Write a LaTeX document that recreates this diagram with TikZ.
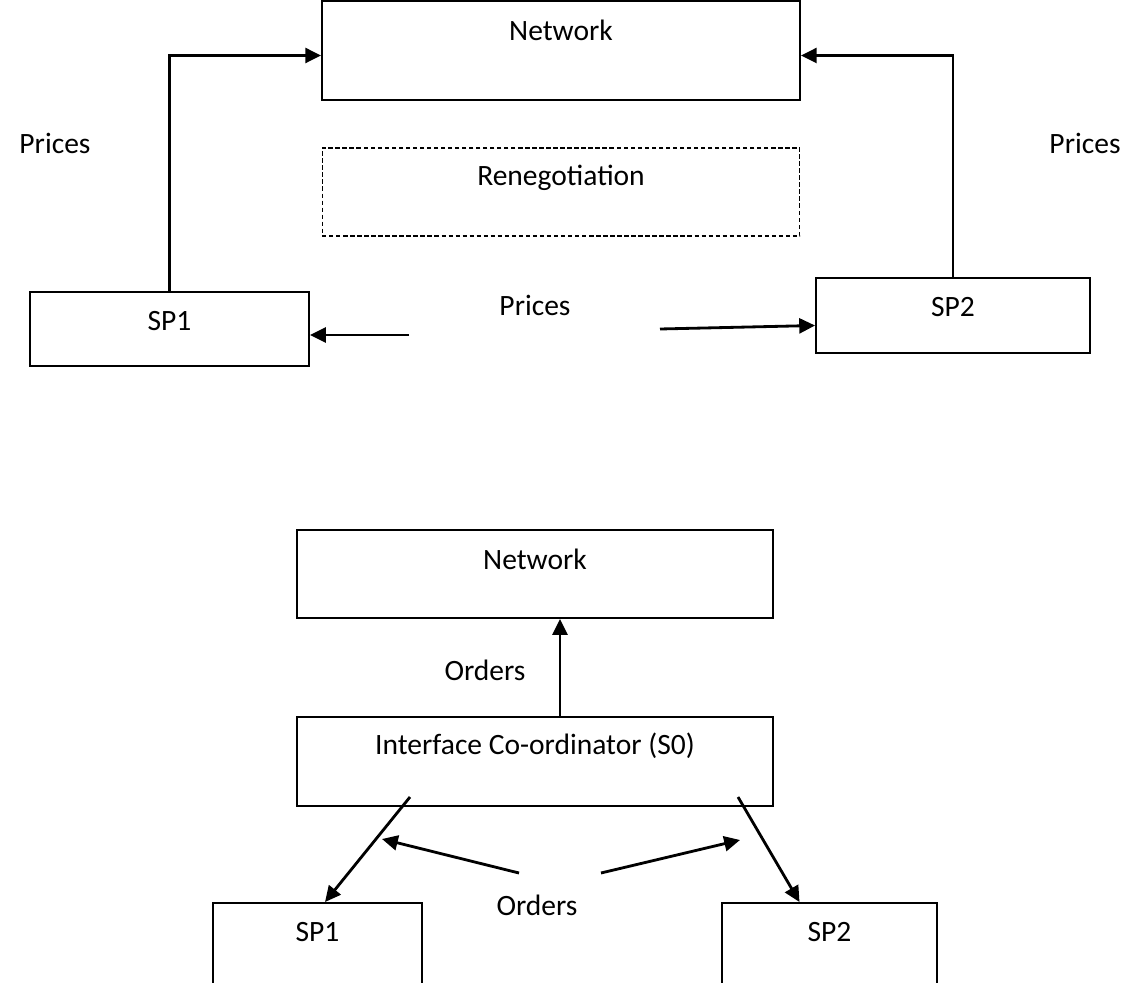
\documentclass[tikz,border=0pt]{standalone}
\usepackage{fontspec}
\setmainfont{Carlito}
\usetikzlibrary{arrows.meta}

\begin{document}
\begin{tikzpicture}[x=0.02cm, y=-0.02cm,
    box/.style={draw, line width=1.1pt, inner sep=0pt},
    lbl/.style={anchor=center, yshift=-0.6cm, inner sep=0pt},
    arr/.style={line width=1.6pt, -{Triangle[length=9pt,width=8.5pt]}},
    font=\fontsize{16.8}{20}\selectfont]
    \clip (0,0) rectangle (1127,983);
    \node[box, minimum width=9.56cm, minimum height=1.98cm, label={[lbl]north:Network}] (net1) at (561,50.5) {};
    \node[box, line width=0.6pt, dash pattern=on 2.5pt off 1.5pt, minimum width=9.56cm, minimum height=1.76cm, label={[lbl]north:Renegotiation}] (reneg) at (561,192) {};
    \node[box, minimum width=5.58cm, minimum height=1.48cm, label={[lbl]north:SP1}] (sp1a) at (169.5,329) {};
    \node[box, minimum width=5.48cm, minimum height=1.5cm, label={[lbl]north:SP2}] (sp2a) at (953,315.5) {};
    \node (pricesl) at (55,143) {Prices};
    \node (pricesr) at (1085,143) {Prices};
    \node (pricesm) at (535,305) {Prices};
    \draw[arr] (sp1a.north) |- ([yshift=-0.1cm]net1.west);
    \draw[arr] (sp2a.north) |- ([yshift=-0.1cm]net1.east);
    \coordinate (pl) at (409,335);
    \coordinate (pr) at (660,329);
    \draw[arr] (pl) -- (sp1a.east |- pl);
    \draw[arr] (pr) -- ([yshift=-0.2cm]sp2a.west);

    \node[box, minimum width=9.52cm, minimum height=1.76cm, label={[lbl]north:Network}] (net2) at (535,574) {};
    \node[box, minimum width=9.52cm, minimum height=1.78cm, label={[lbl]north:Interface Co-ordinator (S0)}] (ic) at (535,761.5) {};
    \node[box, minimum width=4.18cm, minimum height=2.8cm, label={[lbl]north:SP1}] (sp1b) at (317.5,973) {};
    \node[box, minimum width=4.3cm, minimum height=2.8cm, label={[lbl]north:SP2}] (sp2b) at (829.5,973) {};
    \node (ordersup) at (485,670) {Orders};
    \node (ordersdn) at (537,905) {Orders};
    \draw[arr] ([xshift=0.5cm]ic.north) -- ([xshift=0.5cm]net2.south);
    \coordinate (dl) at (410,797);
    \coordinate (dr) at (738,797);
    \draw[arr] (dl) -- ([xshift=0.15cm]sp1b.north);
    \draw[arr] (dr) -- ([xshift=-0.6cm]sp2b.north);
    \coordinate (ol) at (519,873);
    \coordinate (olt) at (382,839);
    \coordinate (or) at (601,873);
    \coordinate (ort) at (740,840);
    \draw[arr] (ol) -- (olt);
    \draw[arr] (or) -- (ort);
\end{tikzpicture}
\end{document}
